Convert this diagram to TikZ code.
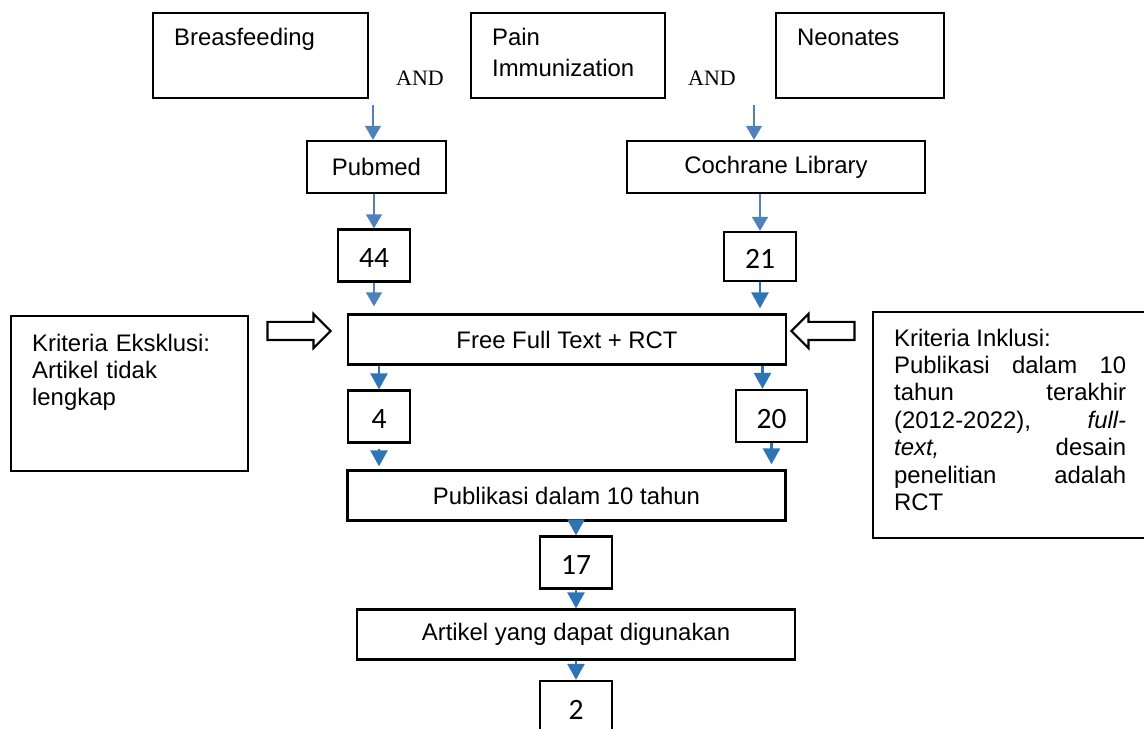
\documentclass[tikz,border=0pt]{standalone}
\usepackage{fontspec}
\setmainfont{Liberation Sans}
\newfontfamily\numfont{Carlito}
\newfontfamily\andfont{Liberation Serif}
\usepackage{tikz}
\usetikzlibrary{arrows.meta}
\usetikzlibrary{shapes.arrows}
\definecolor{flowblue}{RGB}{46,117,182}
\definecolor{paleblue}{RGB}{79,129,189}
\tikzset{every node/.style={font=\fontsize{13.6}{15.6}\selectfont}}
\tikzset{box/.style={draw, line width=1.3pt, inner sep=0pt}}
\tikzset{keyword/.style={box, anchor=north west, align=left, inner xsep=0.42cm, text height=0.64cm, text depth=1.06cm}}
\tikzset{countbox/.style={box, minimum width=1.44cm, minimum height=1.04cm, text height=0.5cm, font=\numfont\fontsize{16.8}{18}\selectfont}}
\tikzset{stepbox/.style={box, minimum width=8.76cm, minimum height=1.0cm}}
\tikzset{andlabel/.style={anchor=base, font=\andfont\fontsize{12.5}{14}\selectfont}}
\tikzset{flow/.style={flowblue, line width=1.5pt, -{Triangle[width=0.34cm, length=0.32cm]}}}
\tikzset{thinflow/.style={paleblue, line width=0.8pt, -{Triangle[width=0.32cm, length=0.28cm]}}}
\tikzset{hollow/.style={draw, line width=1.2pt, single arrow, minimum height=1.26cm, minimum width=0.64cm, single arrow head extend=0.16cm, inner xsep=0pt, inner ysep=0.16cm}}

\begin{document}
\begin{tikzpicture}
  \useasboundingbox (0, 0) rectangle (22.88, 14.58);

  \node[keyword, text width=3.46cm] (breast) at (3.04, 14.34) {Breasfeeding};
  \node[keyword, text width=3.04cm] (pain) at (9.4, 14.34) {Pain\\[2pt]Immunization};
  \node[keyword, text width=2.52cm] (neonate) at (15.5, 14.34) {Neonates};
  \node[andlabel] (and1) at (8.4, 12.86) {AND};
  \node[andlabel] (and2) at (14.24, 12.86) {AND};

  \coordinate (pubtop) at (7.46, 12.48);
  \coordinate (cochtop) at (15.08, 12.48);

  \node[box, minimum width=2.78cm, minimum height=1.04cm] (pubmed) at (7.53, 11.24) {Pubmed};
  \node[box, minimum width=5.96cm, minimum height=1.04cm] (cochrane) at (15.52, 11.24) {Cochrane Library};

  \node[countbox] (n44) at (7.48, 9.47) {44};
  \node[countbox, minimum height=0.98cm] (n21) at (15.2, 9.45) {21};
  \node[stepbox] (fft) at (11.34, 7.79) {Free Full Text + RCT};
  \node[countbox, minimum width=1.24cm] (n4) at (7.58, 6.25) {4};
  \node[countbox, minimum width=1.42cm] (n20) at (15.43, 6.26) {20};
  \node[stepbox] (pub10) at (11.33, 4.67) {Publikasi dalam 10 tahun};
  \node[countbox] (n17) at (11.52, 3.33) {17};
  \node[stepbox] (usable) at (11.52, 1.89) {Artikel yang dapat digunakan};
  \node[countbox] (n2) at (11.52, 0.44) {2};

  \node[keyword, text width=3.9cm, text height=0.7cm, text depth=2.4cm] (exclude) at (0.2, 8.28)
    {Kriteria Eksklusi:\\Artikel tidak\\lengkap};
  \node[keyword, text width=4.64cm, text height=0.68cm, text depth=3.84cm, align=justify] (include) at (17.44, 8.36)
    {\rightskip=0.4cm\relax\tolerance=10000\hbadness=10000
     Kriteria Inklusi:\\
     Publikasi dalam 10\linebreak
     tahun terakhir\linebreak
     (2012-2022), \textit{full-}\linebreak
     \textit{text,} desain\linebreak
     penelitian adalah\linebreak
     RCT};

  \node[hollow] (exclarrow) at (5.89, 7.96) {};
  \node[hollow, shape border rotate=180] (inclarrow) at (16.55, 7.96) {};

  \draw[thinflow] (pubtop) -- (pubtop |- pubmed.north);
  \draw[thinflow] (cochtop) -- (cochtop |- cochrane.north);
  \draw[thinflow] (n44 |- pubmed.south) -- (n44);
  \draw[thinflow] (n21 |- cochrane.south) -- (n21);
  \draw[thinflow, shorten >=0.14cm] (n44) -- (n44 |- fft.north);
  \draw[flow, shorten >=0.1cm] (n21) -- (n21 |- fft.north);
  \draw[flow] (fft.south -| n4) -- (n4);
  \draw[flow] ([xshift=-0.18cm]fft.south -| n20) -- ([xshift=-0.18cm]n20.north);
  \draw[flow, shorten <=0.1cm, shorten >=0.06cm] (n4) -- (n4 |- pub10.north);
  \draw[flow, shorten >=0.1cm] (n20) -- (n20 |- pub10.north);
  \draw[flow] (pub10.south -| n17) -- (n17);
  \draw[flow] (n17) -- (usable);
  \draw[flow] (usable) -- (n2);
\end{tikzpicture}
\end{document}
